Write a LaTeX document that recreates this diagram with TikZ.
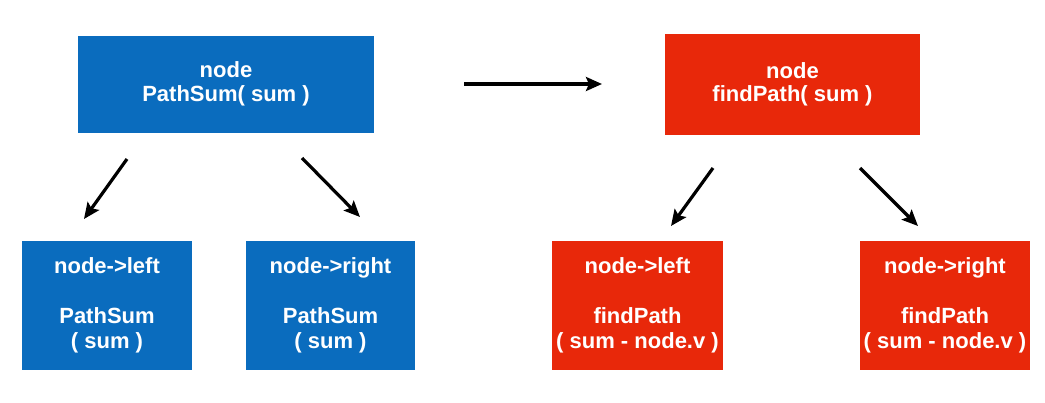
\documentclass[tikz,border=0pt]{standalone}
\usepackage{fontspec}
\setmainfont{Liberation Sans}
\usetikzlibrary{arrows.meta}
\definecolor{boxblue}{RGB}{10,108,190}
\definecolor{boxred}{RGB}{232,40,10}
\begin{document}
\begin{tikzpicture}[x=1pt,y=-1pt,
  box/.style={draw=none,inner sep=0pt,outer sep=0pt,text=white,align=center,
    font=\fontsize{22}{25}\selectfont\bfseries},
  topbox/.style={font=\fontsize{22}{23.5}\selectfont\bfseries},
  bluebox/.style={box,fill=boxblue},
  redbox/.style={box,fill=boxred},
  arr/.style={-{Stealth[length=16pt,width=14pt,inset=3pt]},line width=3.2pt,black}]
\useasboundingbox (0,0) rectangle (1045,402);
% top boxes
\node[bluebox,topbox,minimum width=296pt,minimum height=97pt] (tb) at (226,84) {node\\PathSum( sum )};
\node[redbox,topbox,minimum width=255pt,minimum height=101pt] (tr) at (792.5,84.5) {node\\findPath( sum )};
% bottom boxes
\node[bluebox,minimum width=170pt,minimum height=129pt] (bl) at (107,305.5) {node->left\\[25pt]PathSum\\( sum )};
\node[bluebox,minimum width=169pt,minimum height=129pt] (br) at (330.5,305.5) {node->right\\[25pt]PathSum\\( sum )};
\node[redbox,minimum width=171pt,minimum height=129pt] (rl) at (637.5,305.5) {node->left\\[25pt]findPath\\( sum - node.v )};
\node[redbox,minimum width=170pt,minimum height=129pt] (rr) at (945,305.5) {node->right\\[25pt]findPath\\( sum - node.v )};
% arrow end points
\coordinate (h1) at (464,84);
\coordinate (h2) at (602,84);
\coordinate (a1s) at (127,159);
\coordinate (a1e) at (84,219);
\coordinate (a2s) at (302,158);
\coordinate (a2e) at (360,217);
\coordinate (a3s) at (713,168);
\coordinate (a3e) at (671,226);
\coordinate (a4s) at (860,168);
\coordinate (a4e) at (918,226);
\draw[arr] (h1) -- (h2);
\draw[arr] (a1s) -- (a1e);
\draw[arr] (a2s) -- (a2e);
\draw[arr] (a3s) -- (a3e);
\draw[arr] (a4s) -- (a4e);
\end{tikzpicture}
\end{document}
